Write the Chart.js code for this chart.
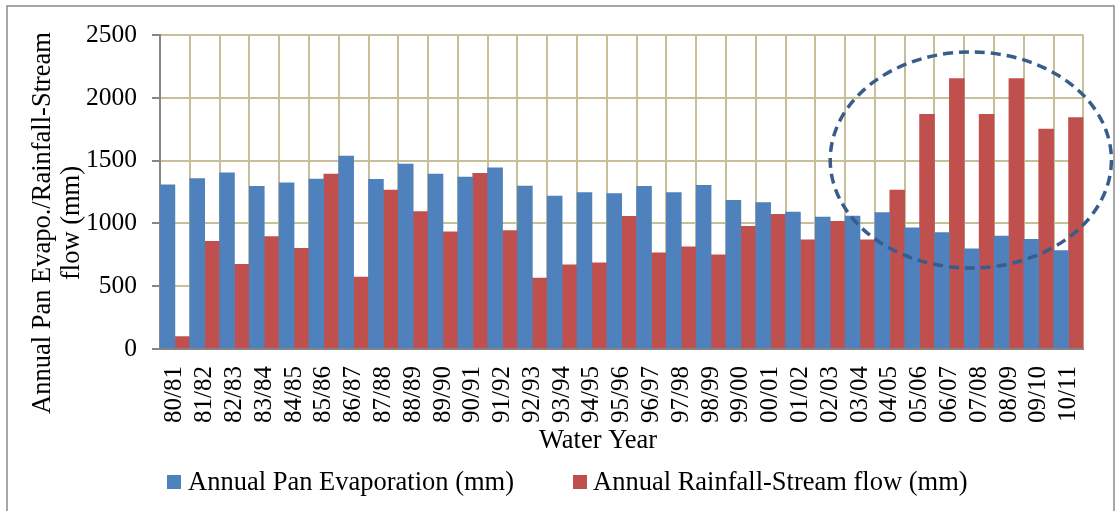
<!DOCTYPE html>
<html>
<head>
<meta charset="utf-8">
<script src="https://cdn.jsdelivr.net/npm/chart.js@4.4.1/dist/chart.umd.min.js"></script>
<style>
  html, body { margin: 0; padding: 0; background: #ffffff; }
  #wrap { width: 1116px; height: 511px; position: relative; }
</style>
</head>
<body>
<div id="wrap"><canvas id="c"></canvas></div>
<script>
const categories = ['80/81','81/82','82/83','83/84','84/85','85/86','86/87','87/88','88/89','89/90',
  '90/91','91/92','92/93','93/94','94/95','95/96','96/97','97/98','98/99','99/00',
  '00/01','01/02','02/03','03/04','04/05','05/06','06/07','07/08','08/09','09/10','10/11'];
const panEvaporation = [1308,1356,1403,1295,1324,1353,1536,1350,1472,1393,1369,1443,1297,1218,1245,1237,
  1295,1245,1303,1184,1165,1091,1051,1059,1086,964,927,797,900,874,784];
const rainfallStreamflow = [98,858,675,895,802,1393,572,1266,1094,932,1398,943,564,670,686,1057,
  765,813,749,977,1072,869,1017,869,1266,1869,2153,1869,2153,1750,1843];
const yTicks = [0,500,1000,1500,2000,2500];
const seriesNames = ['Annual Pan Evaporation (mm)','Annual Rainfall-Stream flow (mm)'];
const xTitle = 'Water Year';
const yTitleLines = ['Annual Pan Evapo./Rainfall-Stream','flow (mm)'];
// highlighted region (category index range, value range)
const highlight = { xFrom: 22.0, xTo: 31.44, yFrom: 645, yTo: 2365 };

const FONT = '"Liberation Serif", "Times New Roman", serif';
const BLUE = '#4f81bd', RED = '#c0504d';
const TAN = '#c6bf9a', AXIS = '#868686';

const decor = {
  id: 'decor',
  afterDraw(chart) {
    const ctx = chart.ctx;
    const xs = chart.scales.x, ys = chart.scales.y;
    ctx.save();
    // outer border
    ctx.strokeStyle = '#8a8a8a';
    ctx.lineWidth = 1.5;
    ctx.beginPath();
    ctx.moveTo(7, 520); ctx.lineTo(7, 6); ctx.lineTo(1114, 6); ctx.lineTo(1114, 520);
    ctx.stroke();

    // highlight ellipse
    const x1 = xs.getPixelForValue(highlight.xFrom), x2 = xs.getPixelForValue(highlight.xTo);
    const y1 = ys.getPixelForValue(highlight.yTo), y2 = ys.getPixelForValue(highlight.yFrom);
    ctx.strokeStyle = '#385d8a';
    ctx.lineWidth = 3.5;
    ctx.setLineDash([10, 6]);
    ctx.beginPath();
    ctx.ellipse((x1 + x2) / 2, (y1 + y2) / 2, (x2 - x1) / 2, (y2 - y1) / 2, 0, 0, Math.PI * 2);
    ctx.stroke();
    ctx.setLineDash([]);

    // axis titles
    ctx.fillStyle = '#000';
    ctx.font = '26.5px ' + FONT;
    ctx.textAlign = 'center';
    ctx.textBaseline = 'alphabetic';
    ctx.fillText(xTitle, 598, 448);
    const lineX = [50, 79];
    yTitleLines.forEach((t, i) => {
      ctx.save();
      ctx.translate(lineX[i], 223);
      ctx.rotate(-Math.PI / 2);
      ctx.fillText(t, 0, 0);
      ctx.restore();
    });

    // legend
    ctx.textAlign = 'left';
    const legendItems = [
      { box: 167, text: 188, color: BLUE, label: seriesNames[0] },
      { box: 573, text: 593, color: RED, label: seriesNames[1] }
    ];
    legendItems.forEach(it => {
      ctx.fillStyle = it.color;
      ctx.fillRect(it.box, 475, 14, 14);
      ctx.fillStyle = '#000';
      ctx.fillText(it.label, it.text, 490);
    });
    ctx.restore();
  }
};

new Chart(document.getElementById('c'), {
  type: 'bar',
  data: {
    labels: categories,
    datasets: [
      { label: seriesNames[0], data: panEvaporation, backgroundColor: BLUE, borderWidth: 0,
        categoryPercentage: 1.0, barPercentage: 1.0 },
      { label: seriesNames[1], data: rainfallStreamflow, backgroundColor: RED, borderWidth: 0,
        categoryPercentage: 1.0, barPercentage: 1.0 }
    ]
  },
  options: {
    responsive: true,
    maintainAspectRatio: false,
    animation: false,
    devicePixelRatio: 1,
    layout: { padding: { top: 35, right: 30, left: 0, bottom: 0 } },
    plugins: { legend: { display: false }, tooltip: { enabled: false } },
    scales: {
      x: {
        afterFit(scale) { scale.height = 162; },
        grid: {
          offset: true,
          drawTicks: false,
          lineWidth: 2,
          color: ctx => ctx.index === 0 ? 'rgba(0,0,0,0)' : TAN
        },
        border: { display: true, color: AXIS, width: 2 },
        ticks: {
          autoSkip: false,
          minRotation: 90,
          maxRotation: 90,
          padding: 17,
          color: '#000',
          font: { family: FONT, size: 25 }
        }
      },
      y: {
        min: 0,
        max: 2500,
        afterFit(scale) { scale.width = 160; },
        afterBuildTicks(scale) { scale.ticks = yTicks.map(v => ({ value: v })); },
        grid: {
          drawTicks: true,
          tickLength: 8,
          tickColor: AXIS,
          tickWidth: 2,
          lineWidth: 2,
          color: ctx => ctx.tick && ctx.tick.value === 0 ? 'rgba(0,0,0,0)' : TAN
        },
        border: { display: true, color: AXIS, width: 2 },
        ticks: {
          padding: 15,
          color: '#000',
          font: { family: FONT, size: 25.5 },
          callback: v => String(v)
        }
      }
    }
  },
  plugins: [decor]
});
</script>
</body>
</html>
